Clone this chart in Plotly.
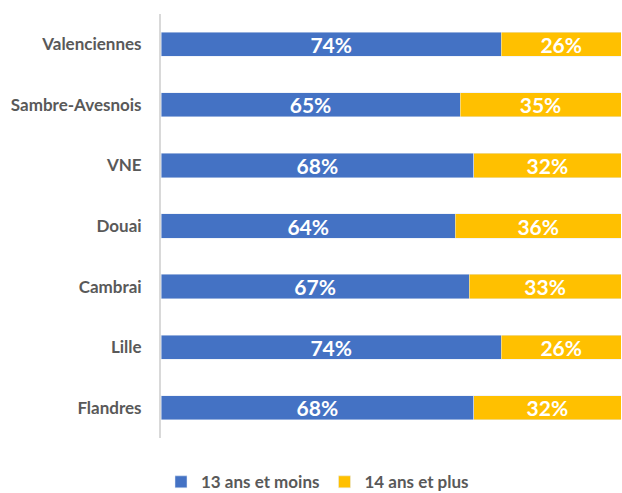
import plotly.graph_objects as go

# ─── data ─────────────────────────────────────────────────────────────────────
zones = ["Valenciennes", "Sambre-Avesnois", "VNE", "Douai", "Cambrai", "Lille", "Flandres"]
moins_13 = [74, 65, 68, 64, 67, 74, 68]
plus_14 = [26, 35, 32, 36, 33, 26, 32]

# ─── figure ───────────────────────────────────────────────────────────────────
font = "Lato, Calibri, Carlito, sans-serif"
label_font = dict(color="white", size=21, family=font, weight="bold")
fig = go.Figure()
for vals, name, color in [(moins_13, "13 ans et moins", "#4472C4"),
                          (plus_14, "14 ans et plus", "#FFC000")]:
    fig.add_trace(go.Bar(y=zones, x=vals, orientation="h", name=name,
                         marker_color=color, texttemplate="%{x}%",
                         textposition="inside", insidetextanchor="middle",
                         constraintext="none", textfont=label_font))

fig.update_layout(
    barmode="stack", bargap=0.6,
    width=622, height=493,
    margin=dict(l=161, r=1, t=14, b=55, autoexpand=False),
    plot_bgcolor="white", paper_bgcolor="white",
    font=dict(family=font, color="#595959", size=17, weight="bold"),
    legend=dict(orientation="h", x=0.0, xanchor="left", y=-0.062, yanchor="top",
                font=dict(size=17, color="#595959", weight="bold"), traceorder="normal"),
)
fig.update_xaxes(range=[0, 100], visible=False)
fig.update_yaxes(autorange="reversed", showline=True, linecolor="#d9d9d9", linewidth=2,
                 ticks="", ticklabelstandoff=14, showgrid=False, automargin=False,
                 tickfont=dict(size=17, color="#595959", weight="bold"))

fig.write_html("out.html", config={"displayModeBar": False},
               post_script="document.body.style.margin='0';")
